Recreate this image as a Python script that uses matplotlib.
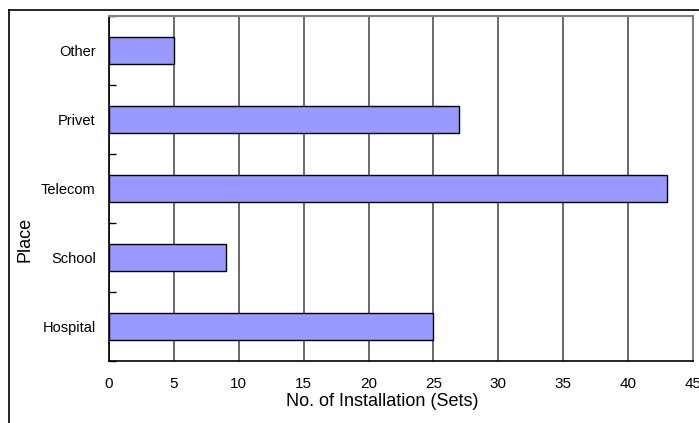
import numpy as np
import matplotlib.pyplot as plt
from matplotlib.lines import Line2D

plt.rcParams['font.family'] = ['Liberation Sans', 'DejaVu Sans']

places = ['Hospital', 'School', 'Telecom', 'Privet', 'Other']
sets = [25, 9, 43, 27, 5]
xticks = [0, 5, 10, 15, 20, 25, 30, 35, 40, 45]

fig = plt.figure(figsize=(6.99, 4.23), dpi=100)
ax = fig.add_axes([109 / 699, 1 - 361 / 423, 584 / 699, 345 / 423])

y = np.arange(len(places))
ax.barh(y, sets, height=0.4, color='#9999ff', edgecolor='black', linewidth=1.0, zorder=3)

ax.set_xlim(0, 45)
ax.set_ylim(-0.5, len(places) - 0.5)
ax.set_xticks(xticks)
ax.set_xticklabels([str(v) for v in xticks], fontsize=11)
ax.set_yticks(y)
ax.set_yticklabels(places, fontsize=10.5)
ax.set_yticks(np.arange(-0.5, len(places), 1.0), minor=True)

ax.tick_params(axis='x', length=0, pad=11.5)
ax.tick_params(axis='y', which='major', length=0, pad=9.5)
ax.tick_params(axis='y', which='minor', direction='in', length=5, width=1, color='black')

# vertical grid lines every 5 sets
ax.grid(True, axis='x', color='#505050', linewidth=1.2, zorder=0)
ax.set_axisbelow(True)

for side in ['left', 'bottom']:
    ax.spines[side].set_color('black')
    ax.spines[side].set_linewidth(1.2)
for side in ['top', 'right']:
    ax.spines[side].set_color('#808080')
    ax.spines[side].set_linewidth(1.5)

ax.set_xlabel('No. of Installation (Sets)', fontsize=13)
ax.xaxis.set_label_coords(0.468, -0.093)
ax.set_ylabel('Place', fontsize=13)
ax.yaxis.set_label_coords(-0.130, 0.351)

# outer frame of the chart area
fig.add_artist(Line2D([9 / 699, 9 / 699], [0, 1 - 10 / 423], color='black', linewidth=1.2))
fig.add_artist(Line2D([9 / 699, 1], [1 - 10 / 423, 1 - 10 / 423], color='black', linewidth=1.2))

fig.savefig('out.png', dpi=100)
